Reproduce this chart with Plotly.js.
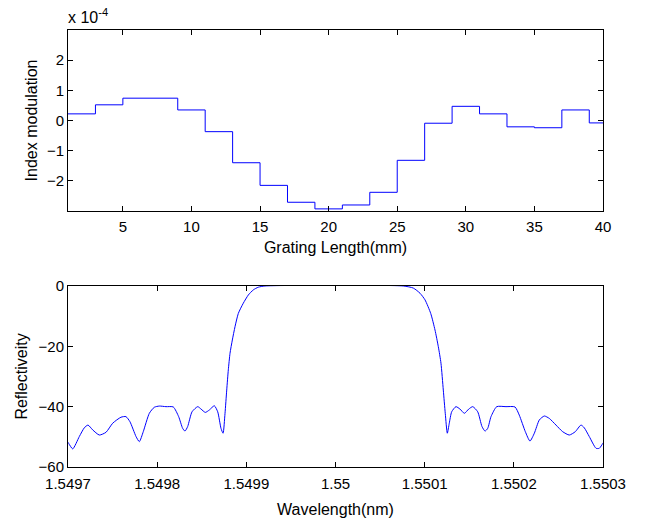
<!DOCTYPE html>
<html>
<head>
<meta charset="utf-8">
<script src="https://cdn.plot.ly/plotly-3.0.1.min.js"></script>
<style>html,body{margin:0;padding:0;background:#fff;}#chart{width:648px;height:520px;}</style>
</head>
<body>
<div id="chart"></div>
<script>
// Top panel: step profile of index modulation (units of 1e-4)
const gratingLength = [1, 3, 5, 9, 11, 13, 15, 17, 19, 21, 23, 25, 27, 29, 31, 33, 35, 37, 39, 40];
const indexModulation_e4 = [0.22, 0.52, 0.74, 0.35, -0.37, -1.40, -2.15, -2.71, -2.93, -2.80, -2.38, -1.32, -0.09, 0.47, 0.22, -0.21, -0.24, 0.35, -0.08, -0.08];
const topXTicks = [5, 10, 15, 20, 25, 30, 35, 40];
const topYTicks = [-2, -1, 0, 1, 2];

// Bottom panel: reflectivity spectrum
const wavelength = [
  1.5497000, 1.5497008, 1.5497053, 1.5497127, 1.5497183, 1.5497224, 1.5497277, 1.5497351, 1.5497426,
  1.5497501, 1.5497594, 1.5497650, 1.5497695, 1.5497763, 1.5497800, 1.5497844, 1.5497912, 1.5497968,
  1.5498024, 1.5498099, 1.5498181, 1.5498241, 1.5498286, 1.5498312, 1.5498342, 1.5498391, 1.5498455,
  1.5498492, 1.5498540, 1.5498585, 1.5498641, 1.5498679, 1.5498716, 1.5498739, 1.5498761, 1.5498780,
  1.5498798, 1.5498817, 1.5498843, 1.5498873, 1.5498910, 1.5498966, 1.5499022, 1.5499078, 1.5499134,
  1.5499209, 1.5500760, 1.5500873, 1.5500948, 1.5501004, 1.5501068, 1.5501116, 1.5501153, 1.5501183,
  1.5501209, 1.5501231, 1.5501254, 1.5501276, 1.5501303, 1.5501351, 1.5501396, 1.5501445, 1.5501494,
  1.5501539, 1.5501595, 1.5501643, 1.5501677, 1.5501707, 1.5501744, 1.5501808, 1.5501912, 1.5502013,
  1.5502061, 1.5502129, 1.5502181, 1.5502230, 1.5502286, 1.5502342, 1.5502398, 1.5502473, 1.5502548,
  1.5502622, 1.5502689, 1.5502753, 1.5502790, 1.5502846, 1.5502922, 1.5502959, 1.5502997, 1.5503000
];
const reflectivity = [
  -51.8, -52.2, -54.0, -49.9, -47.0, -46.1, -47.7, -49.4, -48.5,
  -45.5, -43.5, -43.3, -45.0, -49.9, -51.6, -48.3, -42.2, -40.2,
  -39.8, -40.0, -40.1, -43.3, -47.2, -48.1, -46.6, -41.7, -40.0,
  -40.8, -41.9, -41.1, -39.7, -41.7, -47.2, -48.8, -42.2, -34.5,
  -27.8, -22.3, -17.9, -13.5, -9.1, -5.7, -3.0, -1.3, -0.4,
  0.0, 0.0, -0.7, -2.4, -4.6, -9.1, -14.6, -20.1, -25.6,
  -34.5, -42.2, -48.8, -45.5, -41.7, -40.0, -40.8, -42.2, -40.8,
  -40.0, -41.7, -46.6, -48.1, -47.2, -43.3, -40.0, -40.0, -40.1,
  -42.8, -48.3, -51.4, -48.8, -44.4, -43.1, -43.9, -46.1, -48.3,
  -49.4, -48.3, -46.1, -47.0, -49.9, -53.8, -53.8, -52.2, -52.0
];
const bottomXTickVals = [1.5497, 1.5498, 1.5499, 1.55, 1.5501, 1.5502, 1.5503];
const bottomXTickText = ['1.5497', '1.5498', '1.5499', '1.55', '1.5501', '1.5502', '1.5503'];
const bottomYTicks = [-60, -40, -20, 0];

const FONT = 'Liberation Sans, Arial, sans-serif';
const TICK = 15, TITLE = 16;
const axisCommon = {
  showline: true, linecolor: '#000', linewidth: 1, mirror: 'ticks',
  ticks: 'inside', ticklen: 5, tickcolor: '#000', tickwidth: 1,
  showgrid: false, zeroline: false,
  tickfont: {family: FONT, size: TICK, color: '#000'}
};
const titleFont = {family: FONT, size: TITLE, color: '#000'};

const traces = [
  {x: gratingLength, y: indexModulation_e4, type: 'scatter', mode: 'lines',
   line: {shape: 'hv', color: '#0000ff', width: 1}, xaxis: 'x', yaxis: 'y', hoverinfo: 'skip'},
  {x: wavelength, y: reflectivity, type: 'scatter', mode: 'lines',
   line: {shape: 'spline', smoothing: 0.6, color: '#0000ff', width: 1}, xaxis: 'x2', yaxis: 'y2', hoverinfo: 'skip'}
];

const layout = {
  width: 648, height: 520,
  margin: {l: 68, r: 45, t: 30, b: 53},
  paper_bgcolor: '#fff', plot_bgcolor: '#fff',
  showlegend: false,
  font: {family: FONT, size: TICK, color: '#000'},
  xaxis: Object.assign({}, axisCommon, {
    domain: [0, 1], range: [1, 40], tickvals: topXTicks, anchor: 'y', ticklabelstandoff: 2,
    title: {text: 'Grating Length(mm)', font: titleFont, standoff: 7}
  }),
  yaxis: Object.assign({}, axisCommon, {
    domain: [0.5858, 1], range: [-3, 3], tickvals: topYTicks, anchor: 'x',
    title: {text: 'Index modulation', font: titleFont, standoff: 5}
  }),
  xaxis2: Object.assign({}, axisCommon, {
    domain: [0, 1], range: [1.5497, 1.5503], tickvals: bottomXTickVals, ticktext: bottomXTickText, anchor: 'y2', ticklabelstandoff: 3,
    title: {text: 'Wavelength(nm)', font: titleFont, standoff: 12}
  }),
  yaxis2: Object.assign({}, axisCommon, {
    domain: [0, 0.4142], range: [-60, 0], tickvals: bottomYTicks, anchor: 'x2',
    title: {text: 'Reflectiveity', font: titleFont, standoff: 6}
  }),
  annotations: [
    {xref: 'paper', yref: 'paper', x: 0, y: 1, xanchor: 'left', yanchor: 'bottom', yshift: 2, xshift: -2,
     text: 'x 10<sup>-4</sup>', showarrow: false, font: titleFont}
  ]
};

Plotly.newPlot('chart', traces, layout, {displayModeBar: false, staticPlot: true});
</script>
</body>
</html>
